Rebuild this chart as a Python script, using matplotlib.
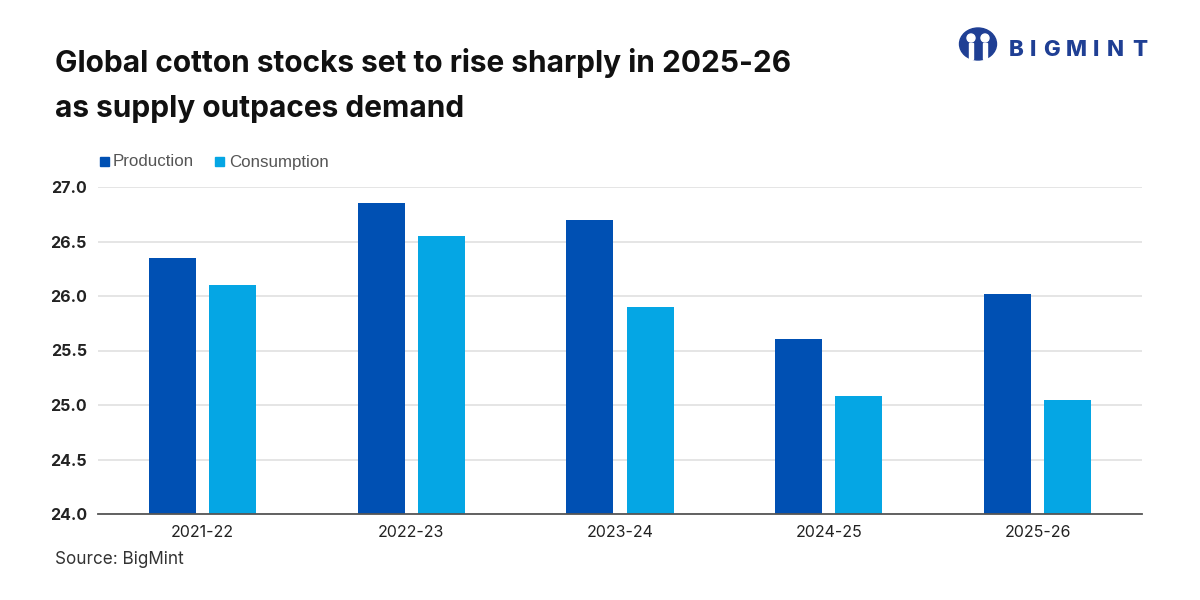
import matplotlib
matplotlib.use("Agg")
import matplotlib.pyplot as plt
import numpy as np
from matplotlib.patches import Rectangle, Ellipse

categories = ["2021-22", "2022-23", "2023-24", "2024-25", "2025-26"]
production = [26.35, 26.85, 26.70, 25.61, 26.02]
consumption = [26.10, 26.55, 25.90, 25.08, 25.05]
yticks = [24.0, 24.5, 25.0, 25.5, 26.0, 26.5, 27.0]

c_prod = "#0050B3"
c_cons = "#05A6E4"

W, H = 1200, 600
fig = plt.figure(figsize=(12, 6), dpi=100)
fig.patch.set_facecolor("white")
ax = fig.add_axes([98/W, 1-514/H, (1142-98)/W, (514-187)/H])

x = np.arange(len(categories))
w = 0.225
off = 0.144
ax.bar(x - off, [p - 24 for p in production], w, bottom=24, color=c_prod, zorder=3)
ax.bar(x + off, [c - 24 for c in consumption], w, bottom=24, color=c_cons, zorder=3)

ax.set_xlim(-0.5, len(categories) - 0.5)
ax.set_ylim(24, 27)
ax.set_yticks(yticks)
ax.set_yticklabels([f"{v:.1f}" for v in yticks], fontfamily="Inter", fontweight="bold",
                   fontsize=11.5, color="#222222")
ax.set_xticks(x)
ax.set_xticklabels(categories, fontfamily="Inter", fontsize=11.5, color="#222222")
ax.tick_params(axis="both", length=0)
ax.tick_params(axis="y", pad=8)
ax.tick_params(axis="x", pad=8)
ax.grid(axis="y", color="#e0e0e0", linewidth=1.2, zorder=0)
for s in ["top", "right", "left"]:
    ax.spines[s].set_visible(False)
ax.spines["bottom"].set_color("#555555")
ax.spines["bottom"].set_linewidth(1.3)
ax.spines["bottom"].set_zorder(4)

# Title
fig.text(55/W, 1-63/H, "Global cotton stocks set to rise sharply in 2025-26",
         fontfamily="Inter", fontweight="bold", fontsize=21.5, color="#111111", va="center")
fig.text(55/W, 1-109/H, "as supply outpaces demand",
         fontfamily="Inter", fontweight="bold", fontsize=21.5, color="#111111", va="center")

# Legend
fig.patches.append(Rectangle((100/W, 1-166/H), 9/W, 9/H, transform=fig.transFigure,
                             color=c_prod, figure=fig))
fig.text(113/W, 1-162/H, "Production", fontfamily="Liberation Sans", fontsize=12.2,
         color="#555555", va="center")
fig.patches.append(Rectangle((215/W, 1-166/H), 9/W, 9/H, transform=fig.transFigure,
                             color=c_cons, figure=fig))
fig.text(229/W, 1-162/H, "Consumption", fontfamily="Liberation Sans", fontsize=12.2,
         color="#555555", va="center")

# Source
fig.text(55/W, 1-559/H, "Source: BigMint", fontfamily="Inter", fontsize=12.3,
         color="#333333", va="center")

# Logo
logo_blue = "#1F3F94"
fig.patches.append(Ellipse((978/W, 1-44/H), 37/W, 32/H, transform=fig.transFigure,
                           color=logo_blue, figure=fig))
for hx in (971, 985):
    fig.patches.append(Ellipse((hx/W, 1-38/H), 8/W, 8/H, transform=fig.transFigure,
                               color="white", figure=fig))
    fig.patches.append(Rectangle(((hx-2)/W, 1-59/H), 4/W, 16/H, transform=fig.transFigure,
                                 color="white", figure=fig))
letters = ["B", "I", "G", "M", "I", "N", "T"]
lx = [1016, 1033, 1051, 1076, 1096, 1115, 1140]
for ch, px in zip(letters, lx):
    fig.text(px/W, 1-50/H, ch, fontfamily="Inter", fontweight="heavy",
             fontsize=16, color=logo_blue, va="center", ha="center")

fig.savefig("out.png", dpi=100, facecolor="white")
